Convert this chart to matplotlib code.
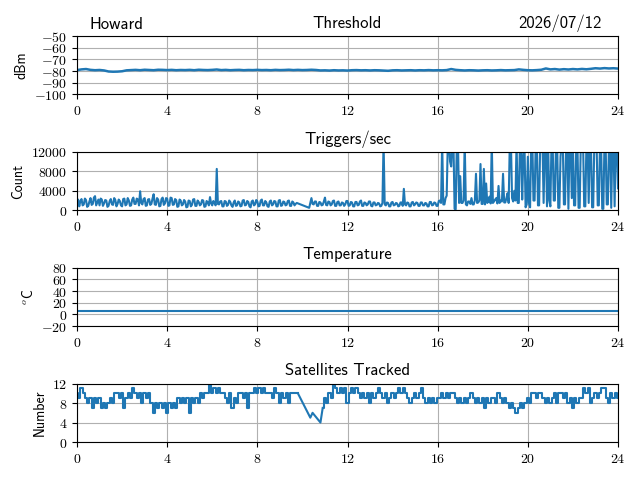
import numpy as np
import matplotlib
matplotlib.use("Agg")
import matplotlib.pyplot as plt
from matplotlib.ticker import FuncFormatter, MultipleLocator

# ---------------- data ----------------
station = "Howard"
date_label = "2026/07/12"

# Threshold (dBm), every 0.2 h from 0 to 24
threshold_step = 0.2
threshold_values = [
    -79.2, -78.6, -78.3, -79.0, -79.3, -79.1, -79.5, -80.4, -80.6, -80.5,
    -80.2, -79.4, -79.2, -79.0, -79.3, -78.9, -79.1, -79.3, -78.9, -79.0,
    -79.2, -79.0, -79.3, -79.1, -79.2, -79.0, -79.3, -78.9, -79.1, -79.2,
    -79.0, -78.7, -79.2, -79.0, -79.3, -79.1, -79.0, -79.3, -79.1, -79.2,
    -79.0, -79.2, -79.1, -79.3, -79.0, -79.2, -79.1, -78.9, -79.2, -79.0,
    -79.2, -79.1, -78.9, -79.1, -79.5, -79.4, -79.6, -79.3, -79.5, -79.4,
    -79.6, -79.3, -79.2, -79.4, -79.3, -79.5, -79.3, -79.4, -79.6, -79.8,
    -79.4, -79.3, -79.5, -79.4, -79.3, -79.5, -79.3, -79.4, -79.2, -79.4,
    -79.3, -79.4, -79.2, -78.3, -79.0, -79.3, -79.5, -79.3, -79.4, -79.6,
    -79.4, -79.3, -79.5, -79.4, -79.2, -79.4, -79.3, -79.2, -78.6, -79.0,
    -79.3, -79.4, -79.2, -78.9, -77.8, -78.6, -78.3, -78.8, -78.4, -78.7,
    -78.3, -78.6, -78.2, -78.5, -78.1, -77.6, -77.9, -77.5, -77.8, -77.6,
    -77.9,
]

# Triggers/sec, every 0.05 h; block A 0.0-9.75 h, a lone reading at 10.3 h, block B 10.4-24.0 h
trig_step = 0.05
trig_start_a = 0.0
trig_values_a = [
    1500, 2200, 800, 1900, 2300, 1000, 1200, 2400, 2100, 700, 900, 1800, 2500, 1100, 1300, 2600, 2900, 1000, 1600, 2200,
    1000, 2400, 2200, 900, 1400, 2100, 2000, 700, 900, 1900, 2300, 1200, 1100, 2500, 2100, 800, 1300, 2200, 1900, 1000,
    800, 2300, 2400, 1000, 1200, 2500, 2000, 900, 1000, 2200, 2600, 1300, 1300, 2400, 2200, 1000, 3900, 1500, 1200, 2300,
    2500, 900, 1000, 2200, 2300, 1100, 1300, 2400, 3300, 1200, 1100, 2500, 2200, 800, 900, 2300, 2600, 1100, 1400, 2500,
    2400, 900, 1000, 2600, 2500, 1100, 1200, 2300, 2100, 700, 800, 2200, 2000, 1000, 1200, 2100, 1800, 600, 700, 2000,
    1900, 800, 1100, 2200, 2300, 900, 900, 2000, 1700, 1000, 1200, 2100, 2000, 700, 800, 1900, 1600, 1000, 2700, 1400,
    1000, 1900, 1500, 1000, 8500, 1300, 1200, 1800, 1900, 800, 800, 1900, 1800, 900, 1100, 2000, 1700, 1000, 700, 1600,
    2000, 900, 1000, 1800, 1600, 800, 900, 2000, 2100, 1000, 1100, 1900, 1700, 800, 600, 1800, 2000, 1000, 1200, 2100,
    1800, 800, 900, 2000, 2200, 1000, 1000, 1900, 1600, 800, 700, 1800, 2000, 1000, 1200, 1900, 1800, 800, 800, 2000,
    2100, 900, 1000, 1800, 1700, 1000, 1100, 1900, 2000, 900, 900, 1800, 1600, 1000, 1300, 1500,
]
trig_gap_hours = [10.3]
trig_gap_values = [500]
trig_start_b = 10.4
trig_values_b = [
    2500, 1300, 1200, 1800, 1800, 900, 900, 1700, 1600, 1000, 1100, 1800,
    2600, 1100, 1000, 1800, 1700, 1000, 1200, 1900, 2000, 900, 900, 1700, 1800, 1000, 1000, 1600, 1500, 900, 1200, 1900,
    1900, 900, 1000, 1700, 1600, 800, 800, 1700, 1700, 1000, 1100, 1800, 2000, 900, 900, 1600, 1500, 1000, 1200, 1800,
    1800, 900, 800, 1600, 1600, 1000, 1100, 1500, 1400, 800, 900, 1500, 14000, 1200, 1000, 1600, 1500, 800, 800, 1600,
    1700, 1000, 1100, 1500, 1400, 800, 900, 1600, 1600, 900, 4400, 1200, 1000, 1600, 1500, 800, 800, 1600, 1700, 1000,
    1200, 1600, 1500, 900, 900, 1600, 1600, 1000, 1000, 1500, 1400, 800, 800, 1700, 1700, 1000, 1100, 1600, 1500, 900,
    900, 1900, 2000, 1500, 14000, 1200, 1200, 2500, 3000, 14000, 14000, 10000, 9000, 14000, 14000, 300, 200, 14000, 14000, 1500,
    7000, 1500, 1500, 2000, 14000, 1200, 1000, 1800, 1800, 1300, 2500, 1200, 1200, 2000, 7500, 1500, 1600, 2000, 9500, 1300,
    1300, 8500, 1200, 5500, 1500, 1800, 2800, 1400, 14000, 1500, 1800, 2200, 2500, 1400, 5000, 1500, 2000, 1800, 7500, 1600,
    1600, 2500, 3500, 1500, 14000, 14000, 2500, 1800, 4000, 2000, 14000, 1500, 1500, 14000, 14000, 2200, 11000, 14000, 600, 1200,
    11000, 1500, 600, 14000, 14000, 2000, 2000, 14000, 14000, 1000, 1000, 14000, 14000, 14000, 1500, 14000, 14000, 800, 14000, 2000,
    800, 14000, 14000, 2000, 2000, 14000, 14000, 500, 500, 11000, 14000, 14000, 1200, 1200, 14000, 14000, 300, 14000, 14000, 2500,
    14000, 1000, 1000, 14000, 14000, 500, 500, 14000, 14000, 14000, 800, 800, 14000, 14000, 1500, 14000, 14000, 600, 600, 14000,
    14000, 14000, 1000, 1000, 14000, 14000, 300, 300, 14000, 14000, 1200, 1200, 14000, 14000, 500, 14000, 14000, 800, 14000, 14000,
    4500,
]

# Temperature (deg C)
temp_hours = [0, 6, 12, 18, 24]
temp_values = [6.0, 6.0, 6.0, 6.0, 6.0]

# Satellites tracked, every 0.1 h; 0.0-9.8 h, sparse readings, 10.9-24.0 h
sat_step = 0.1
sat_start_a = 0.0
sat_values_a = [
    10, 9, 11, 10, 9, 8, 9, 7, 9, 8,
    9, 7, 8, 7, 8, 9, 8, 10, 10, 9,
    10, 7, 9, 10, 9, 11, 10, 9, 10, 8,
    10, 9, 10, 8, 6, 8, 7, 8, 7, 8,
    6, 8, 7, 8, 7, 9, 8, 9, 8, 9,
    6, 9, 8, 9, 8, 10, 9, 10, 10, 12,
    10, 11, 10, 11, 10, 10, 9, 8, 10, 7,
    9, 8, 10, 10, 9, 10, 7, 10, 10, 11,
    10, 11, 10, 11, 10, 10, 10, 9, 11, 10,
    8, 10, 9, 10, 8, 10, 10, 10, 10,
]
sat_gap_hours = [10.35, 10.45, 10.8]
sat_gap_values = [5, 6, 4]
sat_start_b = 10.9
sat_values_b = [
    7, 9, 8, 10, 9, 12, 11, 10, 11, 10,
    11, 8, 10, 11, 10, 11, 10, 9, 10, 9,
    10, 8, 10, 9, 10, 11, 10, 9, 10, 8,
    9, 10, 9, 10, 11, 10, 11, 10, 9, 8,
    9, 10, 9, 10, 11, 9, 8, 9, 8, 9,
    8, 9, 9, 10, 9, 10, 9, 10, 10, 9,
    8, 9, 8, 9, 8, 9, 10, 9, 8, 9,
    8, 9, 7, 9, 8, 9, 9, 8, 10, 9,
    8, 9, 8, 7, 8, 7, 6, 7, 8, 7,
    8, 9, 8, 10, 10, 9, 10, 10, 9, 8,
    9, 8, 9, 10, 8, 10, 10, 9, 10, 8,
    9, 7, 9, 8, 9, 9, 11, 10, 11, 8,
    9, 10, 9, 10, 11, 11, 9, 8, 10, 9,
    10, 9,
]

x_ticks = [0, 4, 8, 12, 16, 20, 24]

# ---------------- build series ----------------
thr_x = threshold_step * np.arange(len(threshold_values))
thr_y = np.array(threshold_values)

trig_xa = trig_start_a + trig_step * np.arange(len(trig_values_a))
trig_xb = trig_start_b + trig_step * np.arange(len(trig_values_b))
trig_x = np.concatenate([trig_xa, trig_gap_hours, trig_xb])
trig_y = np.concatenate([trig_values_a, trig_gap_values, trig_values_b])

sat_xa = sat_start_a + sat_step * np.arange(len(sat_values_a))
sat_xb = sat_start_b + sat_step * np.arange(len(sat_values_b))
sat_gap_x = np.concatenate([[sat_xa[-1]], sat_gap_hours, [sat_xb[0]]])
sat_gap_y = np.concatenate([[sat_values_a[-1]], sat_gap_values, [sat_values_b[0]]])

# ---------------- plot ----------------
plt.rcParams['font.family'] = ['cmss10', 'DejaVu Sans']
plt.rcParams['mathtext.fontset'] = 'cm'
plt.rcParams['axes.unicode_minus'] = False

fig, axes = plt.subplots(4, 1, figsize=(6.4, 4.8), dpi=100)
fig.subplots_adjust(left=77/640, right=618/640, top=1-36/480, bottom=1-442/480, hspace=0.985)

mathfmt = FuncFormatter(lambda v, p: r'$%d$' % int(round(v)))

ax1, ax2, ax3, ax4 = axes
ax1.plot(thr_x, thr_y, color='C0', lw=1.8)
ax1.set_ylim(-100, -50)
ax1.yaxis.set_major_locator(MultipleLocator(10))
ax1.set_ylabel('dBm', fontsize=10)
ax1.set_title('Threshold', fontsize=12)
ax1.text(0.024, 1.06, station, transform=ax1.transAxes, ha='left', va='bottom', fontsize=12)
ax1.text(0.970, 1.06, date_label, transform=ax1.transAxes, ha='right', va='bottom', fontsize=12)

ax2.plot(trig_x, trig_y, color='C0', lw=1.5)
ax2.set_ylim(0, 12000)
ax2.set_yticks([0, 4000, 8000, 12000])
ax2.set_ylabel('Count', fontsize=10)
ax2.set_title('Triggers/sec', fontsize=12)

ax3.plot(temp_hours, temp_values, color='C0', lw=1.5)
ax3.set_ylim(-20, 80)
ax3.yaxis.set_major_locator(MultipleLocator(20))
ax3.set_ylabel(r'$^o$C', fontsize=10)
ax3.set_title('Temperature', fontsize=12)

ax4.plot(sat_xa, sat_values_a, color='C0', lw=1.5, drawstyle='steps-mid')
ax4.plot(sat_gap_x, sat_gap_y, color='C0', lw=1.5)
ax4.plot(sat_xb, sat_values_b, color='C0', lw=1.5, drawstyle='steps-mid')
ax4.set_ylim(0, 12)
ax4.set_yticks([0, 4, 8, 12])
ax4.set_ylabel('Number', fontsize=10)
ax4.set_title('Satellites Tracked', fontsize=12)

for ax in axes:
    ax.set_xlim(0, 24)
    ax.set_xticks(x_ticks)
    ax.xaxis.set_major_formatter(mathfmt)
    ax.yaxis.set_major_formatter(mathfmt)
    ax.tick_params(labelsize=10)
    ax.grid(True, color='#b0b0b0', lw=0.8)

fig.savefig('out.png', dpi=100)
